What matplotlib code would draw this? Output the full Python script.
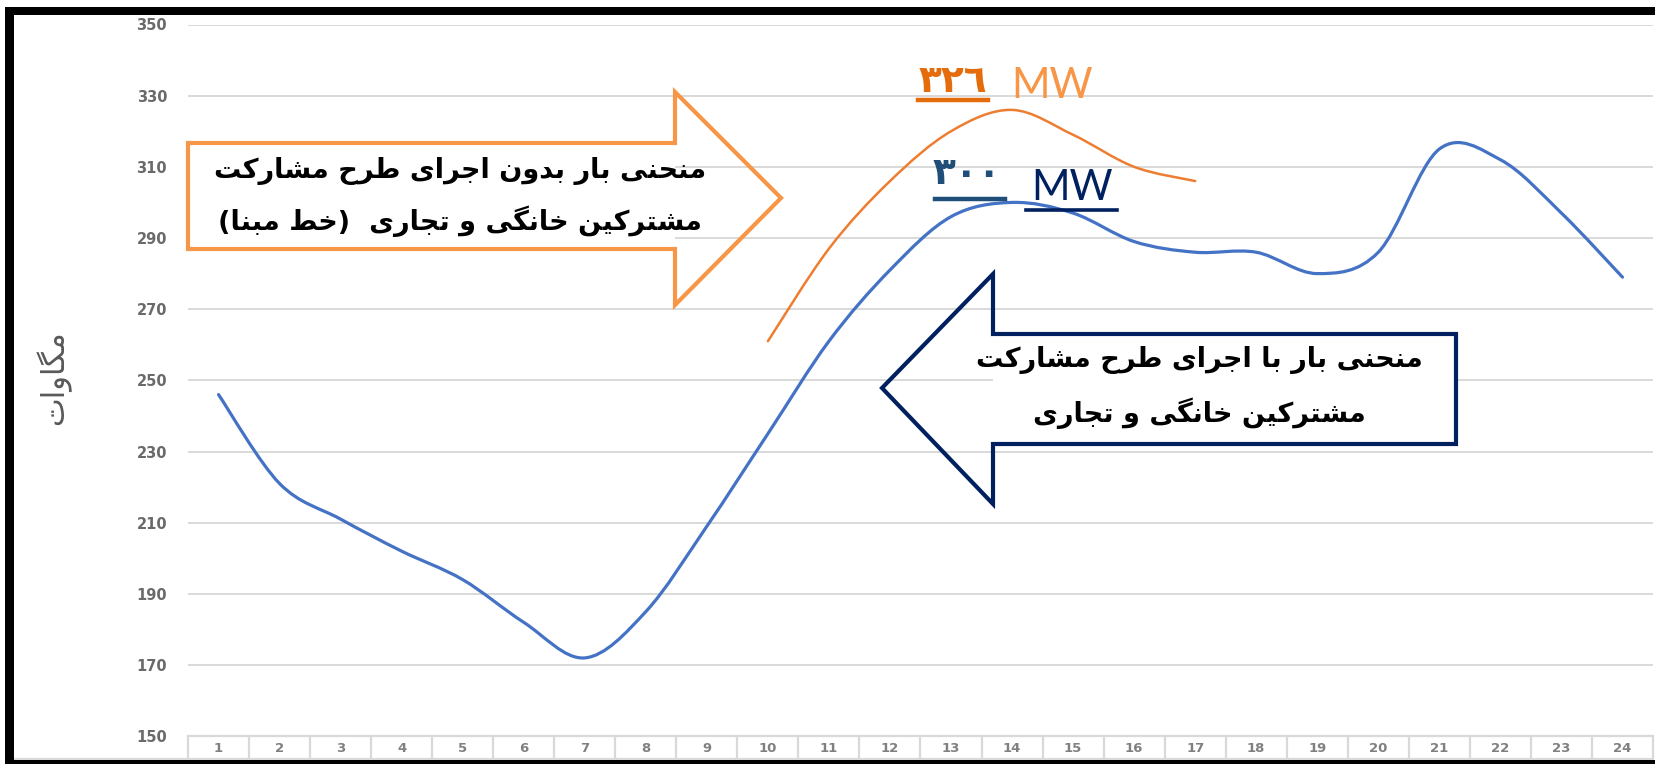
import matplotlib
matplotlib.use("Agg")
import matplotlib.pyplot as plt
from matplotlib.path import Path
from matplotlib.patches import PathPatch, Polygon, Rectangle
from matplotlib.lines import Line2D
import matplotlib.transforms as mtransforms

# ---------------- data ----------------
hours = list(range(1, 25))
hour_labels = [str(h) for h in hours]

# load with the residential / commercial participation programme (MW)
load_with_program = [246, 221, 211, 202, 194, 182, 172, 185, 209, 235, 261, 281,
                     296, 300, 297, 289, 286, 286, 280, 286, 315, 312, 297, 279]

# baseline load without the programme (MW), hours 10-17
baseline_hours = [10, 11, 12, 13, 14, 15, 16, 17]
baseline_load = [261, 287, 306, 320, 326, 319, 310, 306]

y_ticks = [150, 170, 190, 210, 230, 250, 270, 290, 310, 330, 350]

peak_baseline_label = "٣٢٦"
peak_program_label = "٣٠٠"
unit_label = "MW"
y_label = "مگاوات"
baseline_text = ["منحنی بار بدون اجرای طرح مشارکت", "مشترکین خانگی و تجاری  (خط مبنا)"]
program_text = ["منحنی بار با اجرای طرح مشارکت", "مشترکین خانگی و تجاری"]

# ---------------- simple Arabic-script shaping ----------------
# char: (isolated, final, initial, medial)
FORMS = {
    "ا": ("\uFE8D", "\uFE8E", None, None),
    "ب": ("\uFE8F", "\uFE90", "\uFE91", "\uFE92"),
    "ت": ("\uFE95", "\uFE96", "\uFE97", "\uFE98"),
    "ج": ("\uFE9D", "\uFE9E", "\uFE9F", "\uFEA0"),
    "ح": ("\uFEA1", "\uFEA2", "\uFEA3", "\uFEA4"),
    "خ": ("\uFEA5", "\uFEA6", "\uFEA7", "\uFEA8"),
    "د": ("\uFEA9", "\uFEAA", None, None),
    "ر": ("\uFEAD", "\uFEAE", None, None),
    "ز": ("\uFEAF", "\uFEB0", None, None),
    "س": ("\uFEB1", "\uFEB2", "\uFEB3", "\uFEB4"),
    "ش": ("\uFEB5", "\uFEB6", "\uFEB7", "\uFEB8"),
    "ط": ("\uFEC1", "\uFEC2", "\uFEC3", "\uFEC4"),
    "ل": ("\uFEDD", "\uFEDE", "\uFEDF", "\uFEE0"),
    "م": ("\uFEE1", "\uFEE2", "\uFEE3", "\uFEE4"),
    "ن": ("\uFEE5", "\uFEE6", "\uFEE7", "\uFEE8"),
    "ه": ("\uFEE9", "\uFEEA", "\uFEEB", "\uFEEC"),
    "و": ("\uFEED", "\uFEEE", None, None),
    "ک": ("\uFB8E", "\uFB8F", "\uFB90", "\uFB91"),
    "گ": ("\uFB92", "\uFB93", "\uFB94", "\uFB95"),
    "ی": ("\uFBFC", "\uFBFD", "\uFBFE", "\uFBFF"),
}


def shape(text):
    out = []
    n = len(text)
    for i, ch in enumerate(text):
        if ch not in FORMS:
            out.append(ch)
            continue
        iso, fin, ini, med = FORMS[ch]
        prev = text[i - 1] if i > 0 else None
        nxt = text[i + 1] if i < n - 1 else None
        join_prev = prev in FORMS and FORMS[prev][2] is not None
        join_next = ini is not None and nxt in FORMS
        if join_prev and join_next:
            out.append(med)
        elif join_prev:
            out.append(fin)
        elif join_next:
            out.append(ini)
        else:
            out.append(iso)
    vis = "".join(reversed(out))
    return vis.translate(str.maketrans("()", ")("))


# ---------------- figure ----------------
W, H = 1656, 764
fig = plt.figure(figsize=(W / 100, H / 100), dpi=100)
fig.patch.set_facecolor("white")


def fx(x):
    return x / W


def fy(y):
    return 1 - y / H


ax_left, ax_right, ax_top, ax_bot = 188, 1653, 24.5, 736.2
ax = fig.add_axes([fx(ax_left), fy(ax_bot), (ax_right - ax_left) / W, (ax_bot - ax_top) / H])
ax.set_xlim(0.5, 24.5)
ax.set_ylim(150, 350)
for s in ax.spines.values():
    s.set_visible(False)

grid_c = "#d9d9d9"
tick_c = "#6a6a6a"
for v in y_ticks[1:]:
    ax.axhline(v, color=grid_c, lw=1.4, zorder=1)

ax.set_yticks(y_ticks)
ax.set_yticklabels([str(v) for v in y_ticks], fontsize=10.5, fontweight="bold", color=tick_c)
ax.tick_params(axis="y", length=0, pad=15)
ax.set_xticks(hours)
ax.set_xticklabels(hour_labels, fontsize=9.5, fontweight="bold", color="#808080")
ax.tick_params(axis="x", length=0, pad=4)

# category table under the plot
tbl_h = (759 - ax_bot) / (ax_bot - ax_top)
trans = mtransforms.blended_transform_factory(ax.transData, ax.transAxes)
edges = [h - 0.5 for h in hours] + [hours[-1] + 0.5]
ax.vlines(edges, -tbl_h, 0, transform=trans, colors=grid_c, lw=1.6, clip_on=False, zorder=1)
ax.axhline(150, color=grid_c, lw=1.6, zorder=1, clip_on=False)
fig.add_artist(Line2D([fx(14), fx(ax_right)], [fy(759), fy(759)], color=grid_c, lw=1.6))


# smooth curve through points (Catmull-Rom style Bezier segments)
def smooth_path(xs, ys):
    pts = list(zip(xs, ys))
    verts = [pts[0]]
    codes = [Path.MOVETO]
    n = len(pts)
    for i in range(n - 1):
        p0 = pts[i - 1] if i > 0 else pts[i]
        p1 = pts[i]
        p2 = pts[i + 1]
        p3 = pts[i + 2] if i + 2 < n else pts[i + 1]
        c1 = (p1[0] + (p2[0] - p0[0]) / 6, p1[1] + (p2[1] - p0[1]) / 6)
        c2 = (p2[0] - (p3[0] - p1[0]) / 6, p2[1] - (p3[1] - p1[1]) / 6)
        verts += [c1, c2, p2]
        codes += [Path.CURVE4] * 3
    return Path(verts, codes)


ax.add_patch(PathPatch(smooth_path(hours, load_with_program), fill=False,
                       edgecolor="#4472C4", lw=2.3, capstyle="round", zorder=3))
ax.add_patch(PathPatch(smooth_path(baseline_hours, baseline_load), fill=False,
                       edgecolor="#ED7D31", lw=1.8, capstyle="round", zorder=3))


# ---------------- arrows with captions ----------------
def pix_poly(pts, **kw):
    return Polygon([(fx(x), fy(y)) for x, y in pts], closed=True,
                   transform=fig.transFigure, **kw)


orange = "#F79646"
navy = "#002060"

# right-pointing arrow (baseline)
fig.add_artist(Rectangle((fx(188), fy(249)), fx(675 - 188), (249 - 143) / H,
                         transform=fig.transFigure, facecolor="white", edgecolor="none", zorder=4))
fig.add_artist(pix_poly([(188, 143), (675, 143), (675, 92), (781, 198), (675, 305),
                         (675, 249), (188, 249)], fill=False, edgecolor=orange, lw=3.0,
                        joinstyle="miter", zorder=5))
arfont = dict(family="DejaVu Sans", fontweight="bold", color="black", fontsize=19.5,
              ha="center", va="center", zorder=6)
fig.text(fx(460), fy(171), shape(baseline_text[0]), **arfont)
fig.text(fx(460), fy(221), shape(baseline_text[1]), **arfont)

# left-pointing arrow (with programme)
fig.add_artist(Rectangle((fx(993), fy(444)), fx(1456 - 993), (444 - 334) / H,
                         transform=fig.transFigure, facecolor="white", edgecolor="none", zorder=4))
fig.add_artist(pix_poly([(882, 388), (993, 274), (993, 334), (1456, 334), (1456, 444),
                         (993, 444), (993, 504)], fill=False, edgecolor=navy, lw=3.0,
                        joinstyle="miter", zorder=5))
fig.text(fx(1199), fy(360), shape(program_text[0]), **arfont)
fig.text(fx(1199), fy(413), shape(program_text[1]), **arfont)

# peak annotations
fig.text(fx(953), fy(92), peak_baseline_label, family="DejaVu Sans", fontweight="bold",
         fontsize=27, color="#E46C0A", ha="center", va="baseline")
fig.add_artist(Line2D([fx(918), fx(988)], [fy(100), fy(100)], color="#E46C0A", lw=3.2))
fig.text(fx(1052), fy(86), unit_label, family="Lato", fontsize=30, color=orange,
         ha="center", va="center")

fig.text(fx(967), fy(184), peak_program_label, family="DejaVu Sans", fontweight="bold",
         fontsize=27, color="#1F4E79", ha="center", va="baseline")
fig.add_artist(Line2D([fx(935), fx(1005)], [fy(199), fy(199)], color="#1F4E79", lw=3.2))
fig.text(fx(1072), fy(188), unit_label, family="Lato", fontsize=30, color=navy,
         ha="center", va="center")
fig.add_artist(Line2D([fx(1026), fx(1117)], [fy(210), fy(210)], color=navy, lw=2.6))

# axis title
fig.text(fx(53), fy(378), shape(y_label), family="DejaVu Sans", fontsize=22,
         color="#595959", rotation=90, ha="center", va="center")

# black frame
frame = dict(transform=fig.transFigure, facecolor="black", edgecolor="none", zorder=10)
fig.add_artist(Rectangle((fx(5), 0), fx(9), fy(7), **frame))
fig.add_artist(Rectangle((fx(5), fy(15)), 1, 8 / H, **frame))
fig.add_artist(Rectangle((fx(5), 0), 1, 4.5 / H, **frame))

fig.savefig("out.png", dpi=100, facecolor="white")
